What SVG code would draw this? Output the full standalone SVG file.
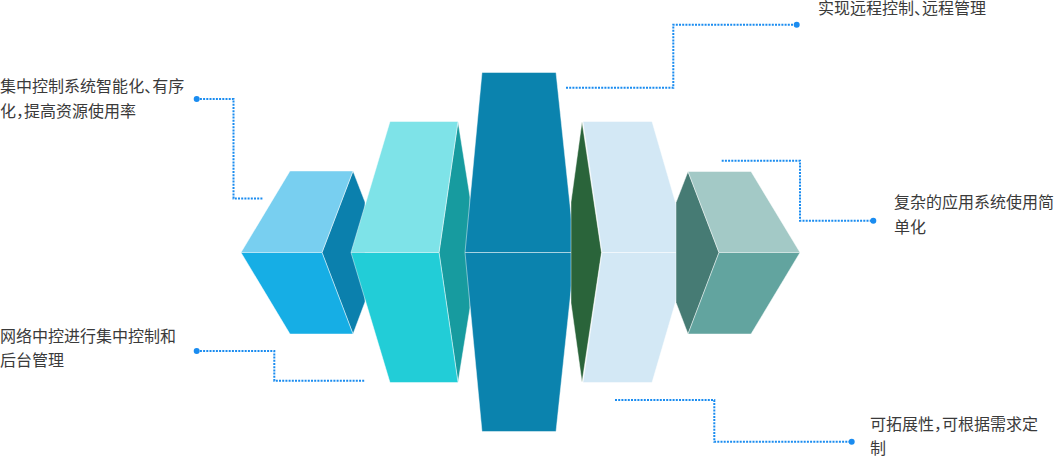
<svg xmlns="http://www.w3.org/2000/svg" width="1054" height="456" viewBox="0 0 1054 456">
<style>
.f{stroke:rgba(255,255,255,0.45);stroke-width:1;stroke-linejoin:round}
.c{fill:none;stroke:#1a8cf0;stroke-width:2;stroke-dasharray:2 1.2}
.d{fill:#1a8cf0}
.t{font-family:"Noto Sans CJK SC","Noto Sans",sans-serif;font-size:16px;fill:#3a3a3a}
</style>
<rect width="1054" height="456" fill="#ffffff"/>
<g id="block1">
<polygon class="f" points="353,171 365,202 365,302 353,334 322,252.5" fill="#0b80ad"/>
<polygon class="f" points="241,252.5 290,171 353,171 322,252.5" fill="#78cff0"/>
<polygon class="f" points="241,252.5 322,252.5 353,334 290,334" fill="#16aee5"/>
</g>
<g id="block2">
<polygon class="f" points="458,121.5 470,197 470,308 458,382.5 439,252.5" fill="#179b9f"/>
<polygon class="f" points="351,252.5 390,121.5 458,121.5 439,252.5" fill="#7ee3e8"/>
<polygon class="f" points="351,252.5 439,252.5 458,382.5 390,382.5" fill="#22cdd7"/>
</g>
<g id="block3">
<polygon class="f" points="482,72.5 556,72.5 575,252.5 465,252.5" fill="#0b83ae"/>
<polygon class="f" points="465,252.5 575,252.5 556,431.5 482,431.5" fill="#0b83ae"/>
</g>
<g id="block4">
<polygon class="f" points="582,121.5 601.5,252.5 582,382.5 571,303 571,202" fill="#2a643a"/>
<polygon class="f" points="583,121.5 652,121.5 690,252.5 602,252.5" fill="#d3e8f5"/>
<polygon class="f" points="602,252.5 690,252.5 652,382.5 583,382.5" fill="#d3e8f5"/>
</g>
<g id="block5">
<polygon class="f" points="688,171.5 676,202.5 676,302.5 688,334 719,252.5" fill="#467b74"/>
<polygon class="f" points="688,171.5 751,171.5 800,252.5 719,252.5" fill="#a3c9c6"/>
<polygon class="f" points="719,252.5 800,252.5 751,334 688,334" fill="#62a49f"/>
</g>
<g id="connectors">
<path class="c" d="M196.7,99 H233.5 V198.5 H263.5"/>
<path class="c" d="M196.7,351 H274.3 V380.7 H365"/>
<path class="c" d="M566,87.7 H673.3 V24.7 H796.7"/>
<path class="c" d="M721.7,160.7 H800 V220.7 H873.3"/>
<path class="c" d="M615,400 H714.3 V441.7 H851.7"/>
<circle class="d" cx="196.7" cy="99" r="3"/>
<circle class="d" cx="196.7" cy="351" r="3"/>
<circle class="d" cx="796.7" cy="24.7" r="3"/>
<circle class="d" cx="873.3" cy="220.7" r="3"/>
<circle class="d" cx="851.7" cy="441.7" r="3"/>
</g>
<g id="label1">
<text class="t" x="0" y="92" dx="0 0 0 0 0 0 0 0 0 0 -8">集中控制系统智能化、有序</text>
<text class="t" x="0" y="117" dx="0 0 -8">化，提高资源使用率</text>
</g>
<g id="label2">
<text class="t" x="0" y="342">网络中控进行集中控制和</text>
<text class="t" x="0" y="366">后台管理</text>
</g>
<g id="label3">
<text class="t" x="818" y="14" dx="0 0 0 0 0 0 0 -8">实现远程控制、远程管理</text>
</g>
<g id="label4">
<text class="t" x="894" y="208">复杂的应用系统使用简</text>
<text class="t" x="894" y="233">单化</text>
</g>
<g id="label5">
<text class="t" x="870" y="430" dx="0 0 0 0 0 -8">可拓展性，可根据需求定</text>
<text class="t" x="870" y="454">制</text>
</g>
</svg>
